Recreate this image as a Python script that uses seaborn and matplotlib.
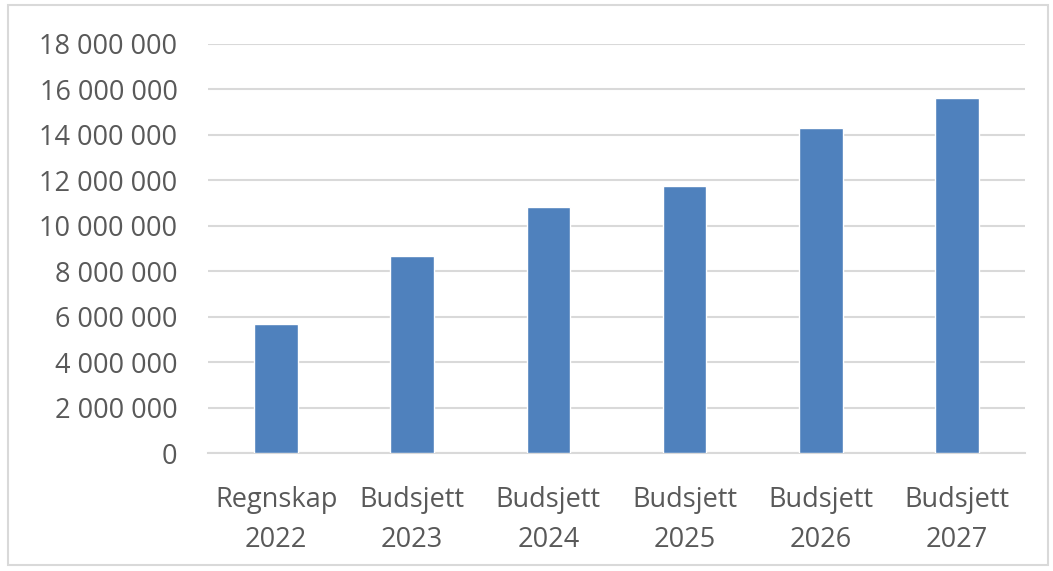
import matplotlib
matplotlib.use("Agg")
import matplotlib.pyplot as plt
import seaborn as sns
import pandas as pd
from matplotlib.patches import Rectangle
from matplotlib.ticker import FuncFormatter, MultipleLocator

# Data
categories = ["Regnskap\n2022", "Budsjett\n2023", "Budsjett\n2024",
              "Budsjett\n2025", "Budsjett\n2026", "Budsjett\n2027"]
values = [5680000, 8680000, 10840000, 11760000, 14320000, 15640000]

df = pd.DataFrame({"kategori": categories, "belop": values})

sns.set_style("white")
plt.rcParams["font.family"] = ["Open Sans", "DejaVu Sans"]

fig = plt.figure(figsize=(10.53, 5.71), dpi=100)
ax = fig.add_axes([208 / 1053, 118 / 571, 817 / 1053, 409 / 571])

sns.barplot(data=df, x="kategori", y="belop", color="#4f81bd",
            saturation=1, width=0.32, ax=ax, zorder=3)

ax.set_ylim(0, 18000000)
ax.set_xlim(-0.5, 5.5)
ax.yaxis.set_major_locator(MultipleLocator(2000000))
ax.yaxis.set_major_formatter(FuncFormatter(lambda v, p: f"{v:,.0f}".replace(",", " ")))
ax.grid(axis="y", color="#d9d9d9", linewidth=1.5, zorder=0)
ax.set_xlabel("")
ax.set_ylabel("")

for s in ["top", "right", "left"]:
    ax.spines[s].set_visible(False)
ax.spines["bottom"].set_color("#d9d9d9")
ax.spines["bottom"].set_linewidth(1.5)

ax.tick_params(axis="both", length=0, labelsize=19.5, colors="#595959")
ax.tick_params(axis="y", pad=22)
ax.tick_params(axis="x", pad=24)
for lbl in ax.get_xticklabels():
    lbl.set_linespacing(1.55)

# light frame round the whole chart
fig.patches.append(Rectangle((8 / 1053, 6 / 571), 1040 / 1053, 560 / 571,
                             transform=fig.transFigure, fill=False,
                             edgecolor="#d9d9d9", linewidth=1.5))

fig.savefig("out.png", dpi=100)
